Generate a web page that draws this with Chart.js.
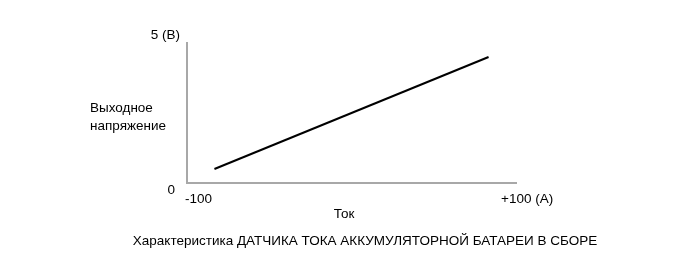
<!DOCTYPE html>
<html>
<head>
<meta charset="utf-8">
<script src="https://cdn.jsdelivr.net/npm/chart.js@4"></script>
<style>
  html, body { margin: 0; padding: 0; background: #fff; }
  #wrap { width: 691px; height: 272px; }
</style>
</head>
<body>
<div id="wrap"><canvas id="myChart" width="691" height="272"></canvas></div>
<script>
// current (A) and output voltage (V)
var currentA = [-100, 100];
var voltageV = [0.5, 4.5];
var xLabels = ['-100', '+100 (A)'];
var yLabels = ['0', '5 (B)'];
var xTitle = 'Ток';
var yTitle = ['Выходное', 'напряжение'];
var caption = 'Характеристика ДАТЧИКА ТОКА АККУМУЛЯТОРНОЙ БАТАРЕИ В СБОРЕ';

const FONT = '13.5px "Liberation Sans", Arial, sans-serif';

// labels drawn next to the axes, like the original diagram
const labelsPlugin = {
    id: 'labels',
    afterDraw(chart) {
        const ctx = chart.ctx;
        const x = chart.scales.x, y = chart.scales.y;
        ctx.save();
        ctx.font = FONT;
        ctx.fillStyle = '#000';
        ctx.textBaseline = 'middle';

        ctx.textAlign = 'right';
        ctx.fillText(yLabels[1], x.left - 7, y.top - 8);
        ctx.fillText(yLabels[0], x.left - 12, y.bottom + 7);

        ctx.textAlign = 'left';
        ctx.fillText(xLabels[0], x.left - 2, y.bottom + 16);
        ctx.fillText(xLabels[1], x.right - 15, y.bottom + 16);

        ctx.textAlign = 'center';
        ctx.fillText(xTitle, 344, y.bottom + 31);
        ctx.fillText(caption, 365, y.bottom + 58);

        ctx.textAlign = 'left';
        ctx.fillText(yTitle[0], 90, 108);
        ctx.fillText(yTitle[1], 90, 126);
        ctx.restore();
    }
};

const ctx = document.getElementById('myChart').getContext('2d');
new Chart(ctx, {
    type: 'scatter',
    data: {
        datasets: [{
            data: currentA.map((a, i) => ({ x: a, y: voltageV[i] })),
            showLine: true,
            borderColor: '#000',
            borderWidth: 2,
            pointRadius: 0
        }]
    },
    options: {
        responsive: false,
        animation: false,
        layout: { padding: { left: 179, top: 43, right: 175, bottom: 81 } },
        plugins: { legend: { display: false }, tooltip: { enabled: false } },
        scales: {
            x: {
                type: 'linear', min: -120, max: 120,
                grid: { display: false },
                border: { display: true, color: '#a8a8a8', width: 2 },
                ticks: { display: false }
            },
            y: {
                min: 0, max: 5,
                grid: { display: false },
                border: { display: true, color: '#a8a8a8', width: 2 },
                ticks: { display: false }
            }
        }
    },
    plugins: [labelsPlugin]
});
</script>
</body>
</html>
